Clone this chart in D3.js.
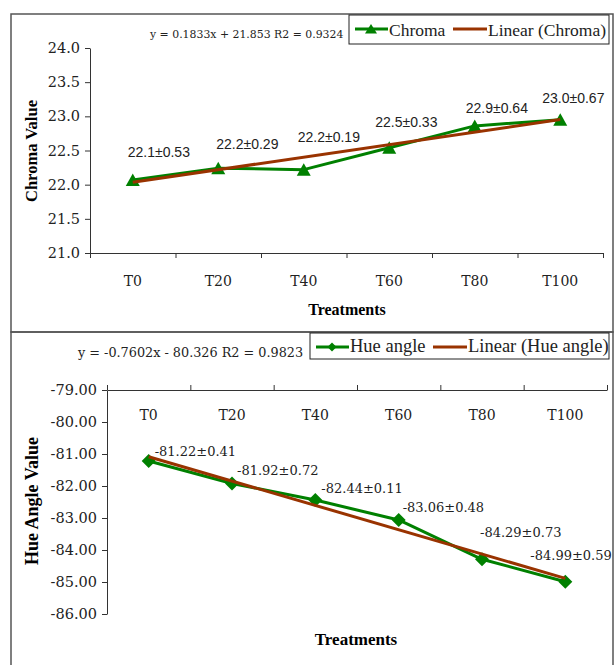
<!DOCTYPE html>
<html>
<head>
<meta charset="utf-8">
<script src="https://d3js.org/d3.v7.min.js"></script>
<style>
  body { margin: 0; background: #fff; }
  svg { display: block; }
  .tick text { font-family: "DejaVu Serif", serif; fill: #222; }
  .axis path, .axis line { stroke: #333; }
</style>
</head>
<body>
<svg id="vis_svg" width="616" height="665"></svg>
<script>
// ---- data ----
let categories = ['T0', 'T20', 'T40', 'T60', 'T80', 'T100'];

let chromaValues = [22.07, 22.24, 22.22, 22.54, 22.86, 22.95];
let chromaLabels = ['22.1±0.53', '22.2±0.29', '22.2±0.19', '22.5±0.33', '22.9±0.64', '23.0±0.67'];
let chromaTicks = [21.0, 21.5, 22.0, 22.5, 23.0, 23.5, 24.0];
let chromaSlope = 0.1833;
let chromaIntercept = 21.853;
let chromaEquation = 'y = 0.1833x + 21.853 R2 = 0.9324';

let hueValues = [-81.22, -81.92, -82.44, -83.06, -84.29, -84.99];
let hueLabels = ['-81.22±0.41', '-81.92±0.72', '-82.44±0.11', '-83.06±0.48', '-84.29±0.73', '-84.99±0.59'];
let hueTicks = [-86, -85, -84, -83, -82, -81, -80, -79];
let hueSlope = -0.7602;
let hueIntercept = -80.326;
let hueEquation = 'y = -0.7602x - 80.326 R2 = 0.9823';

// colours
let green = '#008000';
let brown = '#993300';

let svg = d3.select('svg#vis_svg');

function translate(x, y) {
    return 'translate(' + String(x) + ',' + String(y) + ')';
}

// panel frames
svg.append('rect')
    .attr('x', 11).attr('y', 14)
    .attr('width', 602).attr('height', 318)
    .attr('fill', 'none').attr('stroke', '#555').attr('stroke-width', 1.5);
svg.append('rect')
    .attr('x', 11).attr('y', 332)
    .attr('width', 602).attr('height', 340)
    .attr('fill', 'none').attr('stroke', '#555').attr('stroke-width', 1.5);

let triangle = 'M0,-6.5L7,6L-7,6Z';
let diamond = 'M0,-7L7,0L0,7L-7,0Z';

/**
 * Draw one line chart panel.
 */
function drawPanel(opt) {
    let g = svg.append('g');

    let x = d3.scaleBand().domain(categories).range([opt.left, opt.right]);
    let xEdge = d3.scaleLinear().domain([0, categories.length]).range([opt.left, opt.right]);
    let y = d3.scaleLinear().domain(opt.domain).range([opt.bottom, opt.top]);

    // y axis
    g.append('g')
        .attr('class', 'axis')
        .attr('transform', translate(opt.left, 0))
        .call(d3.axisLeft(y).tickValues(opt.ticks).tickFormat(opt.format)
            .tickSize(5).tickSizeOuter(0).tickPadding(5))
        .call(a => a.selectAll('text').style('font-size', '14.5px'));

    // x axis line with boundary ticks
    let xAxis = opt.xAtTop ? d3.axisTop(xEdge) : d3.axisBottom(xEdge);
    g.append('g')
        .attr('class', 'axis')
        .attr('transform', translate(0, y(opt.xCross)))
        .call(xAxis.tickValues(d3.range(categories.length + 1)).tickFormat('')
            .tickSize(5).tickSizeOuter(0));

    // category labels
    g.append('g')
        .selectAll('text')
        .data(categories)
        .enter()
        .append('text')
        .attr('x', d => x(d) + x.bandwidth() / 2)
        .attr('y', opt.catY)
        .attr('text-anchor', 'middle')
        .style('font-family', '"DejaVu Serif", serif')
        .style('font-size', '14px')
        .style('fill', '#222')
        .text(d => d);

    let cx = (d, i) => x(categories[i]) + x.bandwidth() / 2;

    // series line
    let line = d3.line().x((d, i) => cx(d, i)).y(d => y(d));
    g.append('path')
        .datum(opt.values)
        .attr('d', line)
        .attr('fill', 'none')
        .attr('stroke', green)
        .attr('stroke-width', 3)
        .attr('stroke-linejoin', 'round');

    // markers
    g.append('g')
        .selectAll('path')
        .data(opt.values)
        .enter()
        .append('path')
        .attr('d', opt.marker)
        .attr('transform', (d, i) => translate(cx(d, i), y(d)))
        .attr('fill', green);

    // linear trend
    let ends = [0, categories.length - 1];
    g.append('path')
        .datum(ends)
        .attr('d', d3.line()
            .x(i => cx(null, i))
            .y(i => y(opt.intercept + opt.slope * (i + 1))))
        .attr('stroke', brown)
        .attr('stroke-width', 3)
        .attr('fill', 'none');

    // data labels
    g.append('g')
        .selectAll('text')
        .data(opt.labels)
        .enter()
        .append('text')
        .attr('x', (d, i) => cx(d, i) + opt.nudge[i][0])
        .attr('y', (d, i) => y(opt.values[i]) + opt.nudge[i][1])
        .style('font-family', opt.labelFont)
        .style('font-size', opt.labelSize)
        .style('fill', '#222')
        .text(d => d);

    // axis titles
    g.append('text')
        .attr('transform', translate(opt.yTitle[0], opt.yTitle[1]) + ' rotate(-90)')
        .attr('text-anchor', 'middle')
        .style('font-family', '"Liberation Serif", serif')
        .style('font-weight', 'bold')
        .style('font-size', opt.yTitleSize)
        .text(opt.yTitleText);
    g.append('text')
        .attr('x', opt.xTitle[0]).attr('y', opt.xTitle[1])
        .attr('text-anchor', 'middle')
        .style('font-family', '"Liberation Serif", serif')
        .style('font-weight', 'bold')
        .style('font-size', opt.xTitleSize)
        .text('Treatments');

    // equation
    g.append('text')
        .attr('x', opt.eq[0]).attr('y', opt.eq[1])
        .style('font-family', '"DejaVu Serif", serif')
        .style('font-size', opt.eqSize)
        .style('fill', '#222')
        .text(opt.equation);

    // legend
    let lg = opt.legend;
    g.append('rect')
        .attr('x', lg.x).attr('y', lg.y)
        .attr('width', lg.w).attr('height', lg.h)
        .attr('fill', '#fff').attr('stroke', '#222').attr('stroke-width', 1);
    let my = lg.y + lg.lineDy;
    g.append('line')
        .attr('x1', lg.x + 6).attr('x2', lg.x + 39)
        .attr('y1', my).attr('y2', my)
        .attr('stroke', green).attr('stroke-width', 3);
    g.append('path')
        .attr('d', opt.legendMarker)
        .attr('transform', translate(lg.x + 22, my))
        .attr('fill', green);
    g.append('text')
        .attr('x', lg.x + 40).attr('y', lg.y + lg.textDy)
        .style('font-family', '"Liberation Serif", serif')
        .style('font-size', lg.size)
        .style('fill', '#222')
        .text(lg.names[0]);
    g.append('line')
        .attr('x1', lg.lineX).attr('x2', lg.lineX + 34)
        .attr('y1', my).attr('y2', my)
        .attr('stroke', brown).attr('stroke-width', 3);
    g.append('text')
        .attr('x', lg.lineX + 35).attr('y', lg.y + lg.textDy)
        .style('font-family', '"Liberation Serif", serif')
        .style('font-size', lg.size)
        .style('fill', '#222')
        .text(lg.names[1]);
}

drawPanel({
    left: 90, right: 603, top: 48, bottom: 253,
    domain: [21, 24], ticks: chromaTicks, format: d => d.toFixed(1),
    xCross: 21, xAtTop: false, catY: 286,
    values: chromaValues, labels: chromaLabels,
    slope: chromaSlope, intercept: chromaIntercept,
    marker: triangle, legendMarker: 'M0,-5L6,4.5L-6,4.5Z',
    nudge: [[-5, -23], [-2, -19], [-6, -28], [-14, -21], [-9, -13], [-18, -17]],
    labelFont: '"Liberation Sans", sans-serif', labelSize: '14px',
    yTitle: [37, 151], yTitleText: 'Chroma Value', yTitleSize: '16.5px',
    xTitle: [347, 315], xTitleSize: '16px',
    eq: [150, 38], eqSize: '10.9px', equation: chromaEquation,
    legend: {x: 349, y: 15, w: 260, h: 29, lineDy: 14, textDy: 21, lineX: 453,
        size: '17.5px', names: ['Chroma', 'Linear (Chroma)']}
});

drawPanel({
    left: 107, right: 607, top: 390, bottom: 614,
    domain: [-86, -79], ticks: hueTicks, format: d => d.toFixed(2),
    xCross: -79, xAtTop: true, catY: 420,
    values: hueValues, labels: hueLabels,
    slope: hueSlope, intercept: hueIntercept,
    marker: diamond, legendMarker: 'M0,-4.5L4.5,0L0,4.5L-4.5,0Z',
    nudge: [[6, -5], [5, -8], [6, -7], [4, -8], [-2, -22], [-35, -22]],
    labelFont: '"DejaVu Serif", serif', labelSize: '13px',
    yTitle: [38, 501], yTitleText: 'Hue Angle Value', yTitleSize: '18px',
    xTitle: [356, 645], xTitleSize: '17px',
    eq: [78, 357], eqSize: '12.8px', equation: hueEquation,
    legend: {x: 310, y: 333, w: 299, h: 26, lineDy: 14, textDy: 19, lineX: 433,
        size: '18.5px', names: ['Hue angle', 'Linear (Hue angle)']}
});
</script>
</body>
</html>
